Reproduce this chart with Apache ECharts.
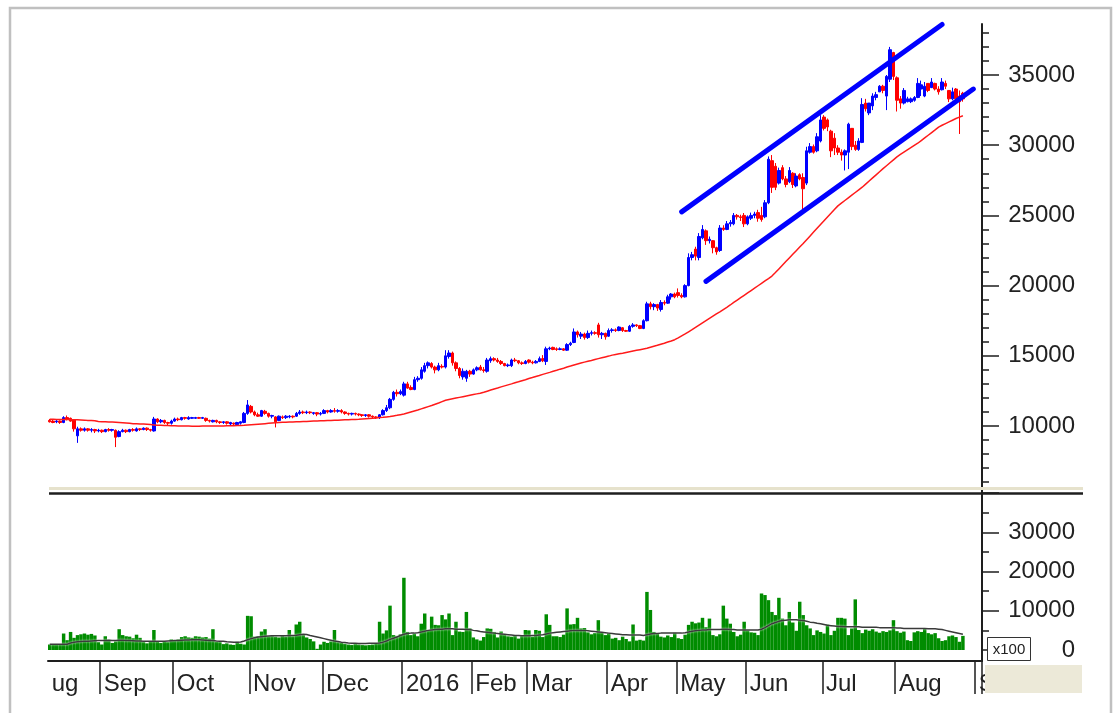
<!DOCTYPE html>
<html>
<head>
<meta charset="utf-8">
<script src="https://cdn.jsdelivr.net/npm/echarts@6/dist/echarts.min.js"></script>
<style>
  html, body { margin: 0; padding: 0; background: #fff; }
  #chart { width: 1115px; height: 713px; }
</style>
</head>
<body>
<div id="chart"></div>
<script>
// month labels as printed under the chart, and trading sessions in each month
const monthLabels = ['ug', 'Sep', 'Oct', 'Nov', 'Dec', '2016', 'Feb', 'Mar', 'Apr', 'May', 'Jun', 'Jul', 'Aug', 'S'];
const monthSessions = [15, 21, 22, 21, 23, 20, 16, 23, 20, 20, 22, 21, 23, 2];

// [open, close, low, high] per session
const priceBars = [
  // Aug 2015
  [10400,10300,10250,10500],[10350,10250,10200,10450],[10300,10350,10200,10450],[10350,10250,10150,10400],
  [10250,10600,10200,10700],[10600,10500,10400,10750],[10550,10350,10300,10600],[10450,9800,9600,10500],
  [9300,9800,8800,9950],[9800,9700,9600,9900],[9700,9800,9600,9900],[9800,9700,9600,9850],
  [9700,9750,9550,9850],[9750,9650,9500,9800],[9650,9700,9550,9800],
  // Sep
  [9700,9600,9500,9750],[9600,9750,9550,9800],[9750,9700,9600,9850],[9700,9750,9600,9800],
  [9700,9200,8500,9750],[9250,9600,9200,9700],[9600,9700,9550,9800],[9700,9600,9500,9750],
  [9600,9750,9550,9800],[9750,9700,9600,9850],[9650,9800,9600,9900],[9800,9750,9650,9850],
  [9750,9850,9700,9900],[9850,9750,9650,9900],[9750,9700,9600,9800],[9650,10500,9600,10650],
  [10500,10300,10200,10550],[10300,10400,10200,10500],[10400,10250,10150,10450],[10250,10200,10050,10300],
  [10200,10350,10100,10450],
  // Oct
  [10350,10500,10300,10600],[10500,10450,10350,10600],[10450,10600,10400,10650],[10600,10550,10450,10650],
  [10500,10600,10450,10700],[10550,10600,10500,10650],[10550,10600,10500,10650],[10600,10550,10500,10650],
  [10550,10600,10500,10650],[10550,10400,10300,10600],[10400,10350,10250,10450],[10300,10400,10250,10450],
  [10400,10300,10200,10450],[10300,10250,10150,10350],[10250,10300,10150,10350],[10300,10200,10100,10350],
  [10150,10250,10050,10300],[10200,10150,10000,10250],[10100,10250,10000,10300],[10200,10300,10100,10350],
  [10250,10900,10200,11000],[10900,11500,10800,11850],
  // Nov
  [11400,11000,10900,11500],[11000,10800,10700,11100],[10800,10700,10650,10950],[10700,11100,10650,11150],
  [11050,10900,10800,11150],[10900,10700,10600,10950],[10700,10750,10550,10800],[10650,10300,9900,10700],
  [10400,10700,10350,10750],[10650,10600,10500,10750],[10600,10700,10500,10780],[10650,10700,10550,10780],
  [10700,10650,10550,10750],[10700,10900,10650,11000],[10900,11000,10800,11140],[11000,10950,10850,11100],
  [10950,11000,10850,11100],[11000,10950,10850,11050],[10900,10950,10800,11000],[10950,10850,10700,11000],
  [10850,10900,10750,11000],
  // Dec
  [10900,11100,10850,11200],[11100,11000,10900,11150],[11000,11100,10950,11200],[11100,11050,10950,11280],
  [11050,11100,10950,11200],[11100,11000,10900,11200],[11000,10900,10800,11050],[10900,10850,10750,10950],
  [10850,10900,10750,10950],[10900,10850,10750,10950],[10850,10800,10700,10900],[10800,10750,10650,10850],
  [10750,10800,10650,10850],[10800,10700,10600,10850],[10700,10650,10550,10750],[10650,10600,10500,10700],
  [10600,10800,10500,10850],[10800,11100,10750,11200],[11100,11300,11000,11500],[11300,11900,11200,12000],
  [11900,12400,11800,12500],[12400,12300,12100,12600],[12300,12450,12200,12600],
  // Jan 2016
  [12200,13000,12100,13150],[13000,12700,12650,13150],[12750,12600,12550,12900],[12600,13300,12550,13500],
  [13300,13400,13150,13550],[13400,14000,13300,14200],[13900,14300,13800,14500],[14300,14500,14100,14600],
  [14450,14200,14100,14550],[14200,14000,13750,14300],[14000,14300,13900,14500],[14250,14200,14100,14400],
  [14200,15000,14100,15400],[14950,15200,14800,15400],[15200,14500,14300,15300],[14500,14100,13900,14600],
  [14100,13600,13400,14200],[13500,13900,13300,14100],[13400,13900,13150,14000],[13900,13700,13500,14000],
  // Feb
  [13700,14000,13650,14100],[14000,14150,13900,14250],[14200,14000,13950,14350],[14000,13950,13800,14200],
  [13900,14700,13800,14850],[14650,14800,14500,14950],[14800,14700,14600,14900],[14700,14600,14500,14850],
  [14600,14450,14350,14700],[14450,14300,14250,14500],[14300,14350,14200,14450],[14300,14700,14200,14800],
  [14700,14650,14550,14850],[14650,14500,14400,14700],[14500,14450,14350,14600],[14450,14600,14400,14700],
  // Mar
  [14700,14550,14450,14750],[14550,14500,14400,14650],[14500,14600,14450,14700],[14600,14800,14550,14950],
  [14800,14650,14550,15050],[14600,15500,14350,15650],[15500,15550,15400,15650],[15600,15450,15400,15650],
  [15500,15450,15350,15600],[15450,15500,15400,15600],[15500,15400,15350,15550],[15400,15800,15350,15900],
  [15800,15900,15700,16000],[15950,16700,15900,16950],[16700,16500,16300,16800],[16400,16550,16200,16700],
  [16550,16300,16150,16650],[16300,16600,16200,16800],[16600,16650,16450,16800],[16650,16600,16500,16750],
  [17200,16500,16300,17350],[16500,16600,16200,16700],[16600,16350,16150,16650],
  // Apr
  [16400,16800,16350,16950],[16800,16850,16650,16970],[16850,16800,16700,16950],[16800,17050,16750,17100],
  [17000,16800,16700,17050],[16800,16750,16700,16850],[16750,17100,16700,17200],[17100,17200,17000,17330],
  [17200,17150,17050,17250],[17150,16950,16900,17200],[16950,17500,16900,17600],[17500,18700,17450,18850],
  [18700,18500,18300,18850],[18500,18650,18250,18750],[18650,18400,18200,18700],[18300,18800,18150,18970],
  [18800,18750,18600,18950],[18750,19200,18700,19350],[19200,19400,19000,19470],[19400,19200,19100,19500],
  // May
  [19500,19300,19150,19800],[19300,19200,19100,19450],[19200,20000,19150,20100],[20000,22000,19950,22300],
  [22000,22200,21800,22400],[22600,22100,21800,22770],[22000,23500,21800,23740],[23400,24000,23300,24310],
  [23900,23200,22900,24000],[23200,23300,23000,23500],[23200,22700,22300,23240],[22700,22400,22200,22770],
  [22500,24100,22400,24310],[24100,24000,23900,24300],[24000,24400,23950,24600],[24400,24500,24200,24670],
  [24400,25000,24300,25170],[25000,24900,24700,25100],[24900,24850,24600,25050],[25000,24400,24170,25170],
  // Jun
  [24400,24900,24300,25000],[24800,25000,24670,25200],[25000,25100,24800,25260],[25200,24800,24550,25400],
  [25000,24700,24550,25610],[24900,25900,24800,26090],[25900,29000,25800,29200],[28900,27000,26600,29300],
  [28500,27000,26800,28730],[27300,28200,27200,28400],[28400,27600,27500,28580],[27600,27200,27000,27800],
  [27400,28200,27300,28440],[28000,27200,26950,28080],[27100,27800,27000,28000],[27900,27600,27500,28000],
  [27700,26900,25100,28000],[27300,29600,27160,29890],[29500,29900,29400,30150],[29900,29500,29400,30050],
  [29600,30600,29500,30860],[30300,31800,30200,32140],
  // Jul
  [32000,31200,31050,32140],[31800,31300,31000,31900],[31000,29600,29150,31100],[30500,29800,29300,30860],
  [29800,29500,29300,30000],[29500,29300,28900,29700],[29300,29600,28200,29700],[29500,31500,28300,31600],
  [31200,29900,29650,31220],[30000,29700,29600,30300],[29700,30300,29600,30500],[30200,32900,30150,33350],
  [33000,32600,32400,33300],[32300,33000,32140,33000],[32800,33500,32500,33700],[33400,33600,33200,33800],
  [33800,34200,33780,34280],[34200,33900,33700,34300],[33500,34900,32500,35000],[34700,36800,34500,37000],
  [36600,34900,34640,36650],
  // Aug
  [34800,33200,32400,34900],[33300,33000,32600,33500],[33000,33900,32900,34070],[33100,33300,33050,33450],
  [33100,33300,33000,33400],[33200,33400,33100,33500],[33400,34400,33350,34780],[34000,34300,33500,34600],
  [33500,34200,33420,34500],[34400,33900,33780,34420],[34100,34500,34070,34780],[34400,34000,33900,34450],
  [34000,33800,33600,34200],[33950,34500,33900,34780],[34400,34200,34000,34600],[33900,33300,33070,33920],
  [33300,33800,33200,34100],[34000,33300,33070,34070],[33500,33100,30800,33900],[33700,33300,33100,33800]
];

// red moving average on the price panel
const priceMA = [
  10480,10480,10470,10470,10460,10460,10450,10450,10440,10430,10420,10400,10390,10370,10330,
  10310,10300,10290,10280,10270,10250,10230,10210,10190,10170,10160,10150,10140,10120,10100,10080,10060,10050,10040,10030,10020,
  10020,10010,10000,10000,10000,9990,9990,9990,10000,10000,10000,10000,10010,10010,10010,10020,10020,10020,10030,10040,10050,10070,
  10090,10110,10130,10150,10170,10190,10210,10230,10250,10260,10270,10280,10290,10300,10310,10320,10330,10340,10350,10360,10370,
  10380,10390,10400,10410,10420,10430,10440,10450,10460,10470,10480,10500,10520,10540,10560,10580,10600,10620,10650,10680,10720,10760,10810,
  10860,10930,11000,11070,11140,11220,11300,11380,11460,11550,11640,11740,11840,11890,11940,11990,12040,12090,12140,12190,
  12240,12290,12330,12400,12480,12560,12640,12710,12790,12860,12930,13000,13080,13150,13230,13300,
  13380,13450,13530,13600,13680,13750,13820,13900,13970,14050,14120,14200,14270,14350,14420,14490,14550,14610,14670,14740,14800,14860,14920,
  14980,15050,15100,15150,15190,15240,15290,15340,15390,15440,15490,15540,15610,15680,15750,15830,15900,15980,16060,16150,
  16280,16420,16560,16710,16860,17020,17180,17340,17500,17660,17820,17980,18130,18290,18450,18620,18800,18970,19140,19310,
  19480,19650,19820,19990,20160,20330,20500,20680,20930,21190,21450,21710,21970,22230,22490,22750,23000,23270,23540,23810,24080,24350,
  24620,24890,25150,25420,25680,25870,26060,26250,26440,26630,26820,27010,27230,27450,27670,27890,28110,28330,28540,28750,28960,
  29170,29340,29500,29660,29820,29980,30140,30330,30520,30710,30900,31090,31290,31420,31540,31660,31780,31900,32000,32100
];

// hand-drawn trend channel: [session index, price]
const upperChannel = [[182, 25250], [257, 38600]];
const lowerChannel = [[189, 20300], [266, 34000]];

// volume (x100)
const volume = [
  1400,1300,1500,1400,4200,2500,4600,3100,3800,4000,4200,3900,4100,3700,2000,
  1400,3500,2600,1800,2200,5300,3800,3500,3400,3000,3900,3100,2000,1700,2200,5100,2300,1800,2100,2000,2700,
  2400,2700,3300,3500,3200,3100,3500,3400,3200,3300,2900,5300,2100,2000,1500,1700,1400,1300,2100,1600,1400,8700,
  8600,3400,3500,4700,5300,3500,3700,3400,3200,3800,3400,5100,3500,6500,7200,3800,3200,2800,2200,300,1400,
  2100,1800,2200,5100,2000,1800,1600,1400,1300,1500,1400,1300,1200,1300,1400,1600,7200,4200,5000,11300,3800,3600,4000,
  18400,4600,3800,4200,3500,6700,9300,5100,8500,6400,6300,8900,7800,9300,3800,7200,4700,4600,9700,5500,
  3200,2700,2400,3300,5500,5400,4600,3200,4700,3800,3500,3400,3700,2900,3600,5100,
  5000,3400,5100,4900,3300,9100,6400,3500,3500,3300,3900,10600,6500,6600,8200,5500,5600,4500,4000,4300,7600,4500,3800,
  4300,2900,3100,2500,3400,2800,2200,6500,2400,2600,2400,14800,10200,4600,4100,3400,3200,3700,3300,4400,
  3000,2800,3900,6400,7200,6800,7000,8200,5800,8000,3800,3500,4000,11300,8000,6700,4600,3500,3900,7200,
  5000,4500,4400,3800,14400,14000,12700,9700,8900,13300,8000,6300,9700,7000,4900,12300,8900,6300,5500,3800,5000,4600,
  4200,6500,3800,4900,8200,8200,8000,3800,5500,12900,5100,4300,5200,4900,5300,4700,4400,4800,4600,5000,7600,
  4800,4400,4700,2500,2300,4500,4800,4600,5500,4300,4000,4300,3000,2300,2500,3500,3700,3300,2100,3600
];

// dark moving average on the volume panel
const volumeMA = [
  1450,1450,1450,1450,1450,1450,1800,2000,2100,2150,2200,2250,2300,2350,2400,
  2450,2450,2500,2450,2450,2500,2500,2450,2400,2350,2300,2300,2250,2250,2200,2200,2200,2250,2250,2300,2350,
  2400,2450,2500,2550,2550,2600,2600,2600,2550,2500,2450,2400,2300,2250,2200,2100,2050,2000,2000,2050,2300,2600,
  2900,3100,3300,3400,3500,3550,3600,3600,3650,3650,3650,3700,3700,3750,3900,4000,3950,3700,3500,3300,3100,
  2900,2700,2500,2300,2150,2000,1900,1800,1750,1700,1650,1650,1650,1700,1700,1750,1800,2000,2300,2700,3000,3300,3700,
  4000,4200,4300,4300,4400,4600,4800,5000,5100,5200,5300,5300,5400,5400,5400,5300,5300,5300,5200,5200,
  5000,4900,4700,4600,4500,4400,4300,4200,4100,4000,3900,3800,3700,3700,3600,3600,
  3600,3700,3700,3800,3900,4100,4300,4400,4500,4600,4700,4800,4900,5000,5000,5000,5000,4900,4800,4700,4600,4500,4400,
  4300,4200,4100,4000,3900,3900,3800,3800,3800,3800,3700,3900,4100,4200,4200,4300,4300,4300,4300,4300,
  4300,4300,4400,4600,4800,4900,5000,5100,5100,5200,5200,5200,5200,5300,5300,5200,5200,5100,5100,5100,
  5100,5100,5100,5100,5300,5700,6200,6700,7000,7300,7500,7600,7700,7700,7700,7600,7500,7300,7100,7000,6800,6700,
  6500,6300,6200,6100,6000,6000,5900,5900,5900,5900,5900,5800,5800,5800,5800,5800,5700,5700,5700,5700,5700,
  5600,5600,5500,5500,5500,5500,5500,5500,5500,5400,5400,5400,5300,5200,5000,4800,4600,4400,4200,4000
];

// tick values of the right-hand axes
const priceMinorTicks = [6000,7000,8000,9000,11000,12000,13000,14000,16000,17000,18000,19000,21000,22000,23000,24000,
  26000,27000,28000,29000,31000,32000,33000,34000,36000,37000,38000];
const priceMajorTicks = [10000, 15000, 20000, 25000, 30000, 35000];

// build the session categories and remember where each month begins
const sessions = [];
const monthStart = {};
monthSessions.forEach((n, m) => {
  for (let d = 0; d < n; d++) {
    if (d === 0) monthStart[sessions.length] = monthLabels[m];
    sessions.push(m + '-' + d);
  }
});

const font = '"Liberation Sans", Arial, sans-serif';
const ink = '#1e1e1e';
const left = 48, width = 934;

const chart = echarts.init(document.getElementById('chart'));

chart.setOption({
  animation: false,
  backgroundColor: '#fff',
  textStyle: { fontFamily: font },
  grid: [
    { left: left, width: width, top: 24, height: 469 },
    { left: left, width: width, top: 493, height: 157 },
    { left: left, width: width, top: 650, height: 11 }
  ],
  xAxis: [
    { type: 'category', gridIndex: 0, data: sessions, show: false },
    { type: 'category', gridIndex: 1, data: sessions, show: false },
    {
      type: 'category', gridIndex: 2, data: sessions, boundaryGap: true,
      axisLine: { show: true, lineStyle: { color: ink, width: 2 } },
      axisTick: {
        show: true,
        alignWithLabel: false,
        interval: (i) => i > 0 && monthStart[i] !== undefined,
        length: 33,
        lineStyle: { color: ink, width: 1.5 }
      },
      axisLabel: {
        show: true,
        interval: (i) => monthStart[i] !== undefined,
        formatter: (v, i) => monthStart[i] || '',
        align: 'left',
        margin: 11,
        padding: [0, 0, 0, 2],
        fontSize: 24,
        color: '#222'
      }
    }
  ],
  yAxis: [
    {
      type: 'value', gridIndex: 0, position: 'right', min: 5230, max: 38632,
      axisLine: { show: true, lineStyle: { color: ink, width: 2 } },
      axisTick: { show: true, length: 7, customValues: priceMinorTicks, lineStyle: { color: ink, width: 1.5 } },
      axisLabel: { show: false },
      splitLine: { show: false }
    },
    {
      type: 'value', gridIndex: 0, position: 'right', min: 5230, max: 38632,
      axisLine: { show: false },
      axisTick: { show: true, length: 17, customValues: priceMajorTicks, lineStyle: { color: ink, width: 1.5 } },
      axisLabel: {
        customValues: priceMajorTicks,
        formatter: (v) => String(v),
        margin: 93, align: 'right', fontSize: 24, color: '#222'
      },
      splitLine: { show: false }
    },
    {
      type: 'value', gridIndex: 1, position: 'right', min: 0, max: 40000, interval: 5000,
      axisLine: { show: true, lineStyle: { color: ink, width: 2 } },
      axisTick: { show: true, length: 7, lineStyle: { color: ink, width: 1.5 } },
      axisLabel: { show: false },
      splitLine: { show: false }
    },
    {
      type: 'value', gridIndex: 1, position: 'right', min: 0, max: 40000, interval: 10000,
      axisLine: { show: false },
      axisTick: { show: true, length: 17, lineStyle: { color: ink, width: 1.5 } },
      axisLabel: {
        formatter: (v) => (v < 40000 ? String(v) : ''),
        margin: 93, align: 'right', fontSize: 24, color: '#222'
      },
      splitLine: { show: false }
    },
    {
      type: 'value', gridIndex: 2, position: 'right', min: 0, max: 1,
      axisLine: { show: true, lineStyle: { color: ink, width: 2 } },
      axisTick: { show: false },
      axisLabel: { show: false },
      splitLine: { show: false }
    }
  ],
  series: [
    {
      type: 'candlestick', xAxisIndex: 0, yAxisIndex: 0,
      data: priceBars,
      barWidth: 3,
      itemStyle: {
        color: '#0000ff', borderColor: '#0000ff',
        color0: '#ff0000', borderColor0: '#ff0000',
        borderWidth: 1
      }
    },
    {
      type: 'line', xAxisIndex: 0, yAxisIndex: 0,
      data: priceMA, symbol: 'none', z: 3,
      lineStyle: { color: '#ff1a1a', width: 1.5 }
    },
    {
      type: 'line', xAxisIndex: 0, yAxisIndex: 0,
      data: upperChannel, symbol: 'none', z: 5, clip: false,
      lineStyle: { color: '#0000ff', width: 5, cap: 'round' }
    },
    {
      type: 'line', xAxisIndex: 0, yAxisIndex: 0,
      data: lowerChannel, symbol: 'none', z: 5, clip: false,
      lineStyle: { color: '#0000ff', width: 5, cap: 'round' }
    },
    {
      type: 'bar', xAxisIndex: 1, yAxisIndex: 2,
      data: volume, barWidth: '100%', barCategoryGap: '0%',
      itemStyle: { color: '#008c00' }
    },
    {
      type: 'line', xAxisIndex: 1, yAxisIndex: 2,
      data: volumeMA, symbol: 'none', z: 4,
      lineStyle: { color: '#3a3a3a', width: 1.5, shadowColor: 'rgba(255,255,255,0.95)', shadowBlur: 2 }
    }
  ],
  graphic: [
    // outer frame
    { type: 'rect', z: 100, silent: true, shape: { x: 10, y: 8, width: 1101, height: 740 },
      style: { fill: 'none', stroke: '#c0c0c0', lineWidth: 2.5 } },
    // panel separator
    { type: 'line', z: 100, silent: true, shape: { x1: 49, y1: 488.5, x2: 1083, y2: 488.5 },
      style: { stroke: '#e6e2cc', lineWidth: 3 } },
    { type: 'line', z: 100, silent: true, shape: { x1: 49, y1: 493.5, x2: 1083, y2: 493.5 },
      style: { stroke: ink, lineWidth: 2.5 } },
    // corner box under the axis
    { type: 'rect', z: 100, silent: true, shape: { x: 985, y: 665, width: 97, height: 28 },
      style: { fill: '#ece9d8' } },
    // volume unit box
    { type: 'rect', z: 100, silent: true, shape: { x: 987.5, y: 637.5, width: 43, height: 23 },
      style: { fill: '#fff', stroke: '#333', lineWidth: 1 } },
    { type: 'text', z: 101, silent: true,
      style: { text: 'x100', x: 1009, y: 649.5, align: 'center', verticalAlign: 'middle',
        font: '15px "Liberation Sans", Arial, sans-serif', fill: '#222' } }
  ]
});
</script>
</body>
</html>
